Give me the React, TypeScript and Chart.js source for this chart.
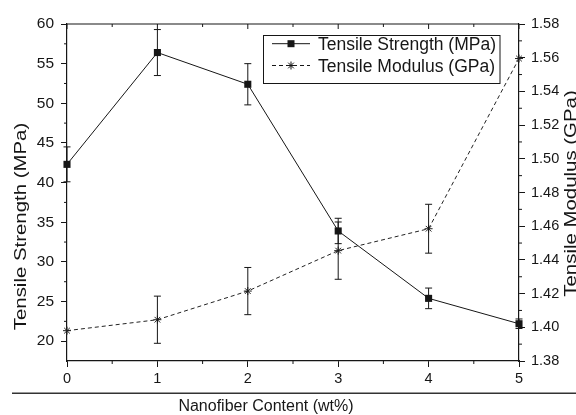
import React, { useEffect, useRef } from "react";
import { Chart, registerables } from "chart.js";

Chart.register(...registerables);

const categories = [0, 1, 2, 3, 4, 5];
const strengthValues = [42.3, 56.4, 52.4, 33.9, 25.4, 22.2];
const strengthErrors = [2.2, 2.9, 2.6, 1.6, 1.3, 0.6];
const modulusValues = [1.398, 1.4045, 1.4215, 1.4455, 1.4585, 1.5595];
const modulusErrors = [0, 0.014, 0.014, 0.017, 0.0145, 0];
const xTicks = [0, 1, 2, 3, 4, 5];
const leftTicks = [20, 25, 30, 35, 40, 45, 50, 55, 60];
const rightTicks = [1.38, 1.4, 1.42, 1.44, 1.46, 1.48, 1.5, 1.52, 1.54, 1.56, 1.58];
const xMinorTicks = [0.5, 1.5, 2.5, 3.5, 4.5];
const leftMinorTicks = [22.5, 27.5, 32.5, 37.5, 42.5, 47.5, 52.5, 57.5];
const rightMinorTicks = [1.39, 1.41, 1.43, 1.45, 1.47, 1.49, 1.51, 1.53, 1.55, 1.57];

const strengthLabel = "Tensile Strength (MPa)";
const modulusLabel = "Tensile Modulus (GPa)";
const xTitle = "Nanofiber Content (wt%)";

const FONT = "'Liberation Sans', Arial, sans-serif";
const INK = "#161616";

const decorPlugin = {
  id: "decor",
  afterDatasetsDraw(chart: any) {
    const ctx = chart.ctx;
    const errs = [strengthErrors, modulusErrors];
    const vals = [strengthValues, modulusValues];
    const axes = ["y", "y1"];
    ctx.save();
    ctx.strokeStyle = INK;
    ctx.lineWidth = 1;
    for (let d = 0; d < 2; d++) {
      const meta = chart.getDatasetMeta(d);
      const sc = chart.scales[axes[d]];
      meta.data.forEach((pt: any, i: number) => {
        const e = errs[d][i];
        if (!e) return;
        const x = pt.x;
        const yt = sc.getPixelForValue(vals[d][i] + e);
        const yb = sc.getPixelForValue(vals[d][i] - e);
        ctx.beginPath();
        ctx.moveTo(x, yt);
        ctx.lineTo(x, yb);
        ctx.moveTo(x - 3.5, yt);
        ctx.lineTo(x + 3.5, yt);
        ctx.moveTo(x - 3.5, yb);
        ctx.lineTo(x + 3.5, yb);
        ctx.stroke();
      });
    }
    ctx.restore();
  },
  afterDraw(chart: any) {
    const ctx = chart.ctx;
    const { left, right, top, bottom } = chart.chartArea;
    const xs = chart.scales.x;
    const ys = chart.scales.y;
    const y1 = chart.scales.y1;
    ctx.save();
    ctx.strokeStyle = INK;
    ctx.lineWidth = 1.2;
    // top frame
    ctx.beginPath();
    ctx.moveTo(left, top);
    ctx.lineTo(right, top);
    ctx.stroke();
    ctx.lineWidth = 1;
    ctx.beginPath();
    // bottom minor ticks
    xMinorTicks.forEach((v) => {
      const px = xs.getPixelForValue(v);
      ctx.moveTo(px, bottom);
      ctx.lineTo(px, bottom + 3);
    });
    // top ticks (inward)
    xTicks.concat(xMinorTicks).forEach((v) => {
      const px = xs.getPixelForValue(v);
      const len = Number.isInteger(v) ? 5 : 3;
      ctx.moveTo(px, top);
      ctx.lineTo(px, top + len);
    });
    leftMinorTicks.forEach((v) => {
      const py = ys.getPixelForValue(v);
      ctx.moveTo(left, py);
      ctx.lineTo(left - 3, py);
    });
    rightMinorTicks.forEach((v) => {
      const py = y1.getPixelForValue(v);
      ctx.moveTo(right, py);
      ctx.lineTo(right + 3, py);
    });
    ctx.stroke();

    // separator line
    ctx.strokeStyle = "#333";
    ctx.lineWidth = 1.5;
    ctx.beginPath();
    ctx.moveTo(12, 393.3);
    ctx.lineTo(576, 393.3);
    ctx.stroke();

    // legend
    ctx.strokeStyle = INK;
    ctx.lineWidth = 1;
    ctx.strokeRect(263.5, 35.5, 236.5, 48);
    const rows = [
      { label: strengthLabel, y: 43.7, dash: [] as number[], base: 50 },
      { label: modulusLabel, y: 65.5, dash: [4, 3], base: 71.7 },
    ];
    rows.forEach((r, i) => {
      ctx.setLineDash(r.dash);
      ctx.beginPath();
      ctx.moveTo(272, r.y);
      ctx.lineTo(310, r.y);
      ctx.stroke();
      ctx.setLineDash([]);
      if (i === 0) {
        ctx.fillStyle = INK;
        ctx.fillRect(291 - 3.5, r.y - 3.5, 7, 7);
      } else {
        const rr = 4;
        ctx.beginPath();
        ctx.moveTo(291 - rr, r.y);
        ctx.lineTo(291 + rr, r.y);
        ctx.moveTo(291, r.y - rr);
        ctx.lineTo(291, r.y + rr);
        const d = rr * Math.SQRT1_2;
        ctx.moveTo(291 - d, r.y - d);
        ctx.lineTo(291 + d, r.y + d);
        ctx.moveTo(291 - d, r.y + d);
        ctx.lineTo(291 + d, r.y - d);
        ctx.stroke();
      }
      ctx.fillStyle = INK;
      ctx.font = `17.5px ${FONT}`;
      ctx.textAlign = "left";
      ctx.textBaseline = "alphabetic";
      ctx.fillText(r.label, 318, r.base);
    });

    // x title
    ctx.fillStyle = INK;
    ctx.font = `16px ${FONT}`;
    ctx.textAlign = "center";
    ctx.textBaseline = "alphabetic";
    ctx.fillText(xTitle, 266, 410.7);

    // left title
    const drawVert = (text: string, cx: number, cy: number) => {
      ctx.save();
      ctx.translate(cx, cy);
      ctx.rotate(-Math.PI / 2);
      ctx.scale(1.2, 1);
      ctx.font = `17px ${FONT}`;
      ctx.textAlign = "center";
      ctx.textBaseline = "alphabetic";
      ctx.fillText(text, 0, 0);
      ctx.restore();
    };
    drawVert(strengthLabel, 25.7, 226.5);
    drawVert(modulusLabel, 576.4, 193.5);
    ctx.restore();
  },
};

export default function App() {
  const ref = useRef<HTMLCanvasElement>(null);
  useEffect(() => {
    if (!ref.current) return;
    const chart = new Chart(ref.current, {
      type: "line",
      data: {
        datasets: [
          {
            label: strengthLabel,
            data: categories.map((x, i) => ({ x, y: strengthValues[i] })),
            yAxisID: "y",
            borderColor: INK,
            backgroundColor: INK,
            borderWidth: 1,
            pointStyle: "rect",
            pointRadius: 5,
            pointBorderWidth: 0,
            pointBackgroundColor: INK,
            tension: 0,
            clip: false,
          },
          {
            label: modulusLabel,
            data: categories.map((x, i) => ({ x, y: modulusValues[i] })),
            yAxisID: "y1",
            borderColor: "#222",
            backgroundColor: "#222",
            borderWidth: 1,
            borderDash: [4, 3],
            pointStyle: "star",
            pointRadius: 4,
            pointBorderWidth: 1,
            pointBorderColor: "#222",
            tension: 0,
            clip: false,
          },
        ],
      },
      options: {
        animation: false,
        responsive: false,
        devicePixelRatio: 1,
        layout: { padding: { top: 24, left: 0, right: 0, bottom: 0 } },
        plugins: {
          legend: { display: false },
          title: { display: false },
          tooltip: { enabled: false },
        },
        scales: {
          x: {
            type: "linear",
            position: "bottom",
            min: 0,
            max: 5,
            afterBuildTicks: (s: any) => {
              s.ticks = xTicks.map((v) => ({ value: v }));
            },
            afterFit: (s: any) => {
              s.height = 54;
            },
            ticks: {
              color: INK,
              font: { family: FONT, size: 14.5 },
              padding: 3,
              maxRotation: 0,
              callback: (v: any) => String(v),
            },
            grid: {
              drawOnChartArea: false,
              drawTicks: true,
              tickLength: 6,
              color: INK,
              lineWidth: 1,
            },
            border: { display: true, color: INK, width: 1.2 },
          },
          y: {
            type: "linear",
            position: "left",
            min: 17.5,
            max: 60,
            afterBuildTicks: (s: any) => {
              s.ticks = leftTicks.map((v) => ({ value: v }));
            },
            afterFit: (s: any) => {
              s.width = 67;
            },
            ticks: {
              color: INK,
              font: { family: FONT, size: 15.5 },
              padding: 7,
              callback: (v: any) => String(v),
            },
            grid: {
              drawOnChartArea: false,
              drawTicks: true,
              tickLength: 6,
              color: INK,
              lineWidth: 1,
            },
            border: { display: true, color: INK, width: 1.2 },
          },
          y1: {
            type: "linear",
            position: "right",
            min: 1.38,
            max: 1.58,
            afterBuildTicks: (s: any) => {
              s.ticks = rightTicks.map((v) => ({ value: v }));
            },
            afterFit: (s: any) => {
              s.width = 57;
            },
            ticks: {
              color: INK,
              font: { family: FONT, size: 14.5 },
              padding: 6,
              callback: (v: any) => Number(v).toFixed(2),
            },
            grid: {
              drawOnChartArea: false,
              drawTicks: true,
              tickLength: 6,
              color: INK,
              lineWidth: 1,
            },
            border: { display: true, color: INK, width: 1.2 },
          },
        },
      },
      plugins: [decorPlugin],
    } as any);
    return () => chart.destroy();
  }, []);
  return (
    <div style={{ position: "absolute", left: 0, top: 0, width: 576, height: 415, background: "#fff" }}>
      <canvas ref={ref} width={576} height={415} />
    </div>
  );
}
